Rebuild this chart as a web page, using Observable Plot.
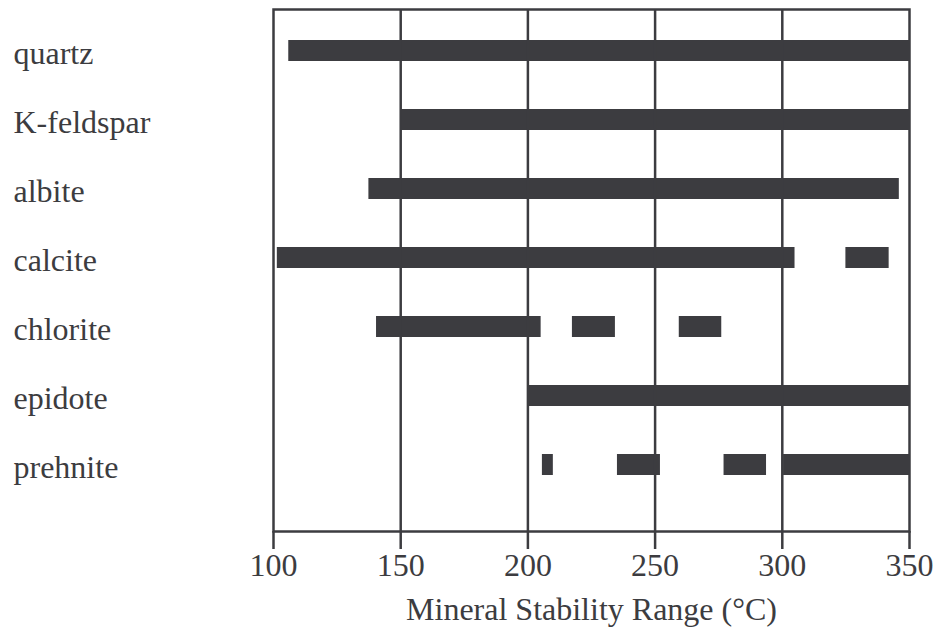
<!DOCTYPE html>
<html>
<head>
<meta charset="utf-8">
<script src="https://cdn.jsdelivr.net/npm/d3@7"></script>
<script src="https://cdn.jsdelivr.net/npm/@observablehq/plot@0.6"></script>
<style>
  html, body { margin: 0; padding: 0; background: #fff; }
  svg { font-family: "Liberation Serif", "DejaVu Serif", serif; }
</style>
</head>
<body>
<div id="chart"></div>
<script>
const minerals = ["quartz", "K-feldspar", "albite", "calcite", "chlorite", "epidote", "prehnite"];
const rangeMineral = ["quartz", "K-feldspar", "albite", "calcite", "calcite", "chlorite", "chlorite", "chlorite", "epidote", "prehnite", "prehnite", "prehnite", "prehnite"];
const rangeStart = [106, 150, 137.5, 101.5, 325, 140.5, 217.5, 259.5, 200, 205.7, 235.2, 277.1, 300.5];
const rangeEnd = [350, 350, 346, 305, 342, 205.2, 234.4, 276.2, 350, 210, 252.1, 293.8, 350];
const xTicks = [100, 150, 200, 250, 300, 350];
const gridTicks = [150, 200, 250, 300];
const xLabel = "Mineral Stability Range (°C)";

const data = rangeMineral.map((m, i) => ({mineral: m, start: rangeStart[i], end: rangeEnd[i]}));

const ink = "#3c3c40";

const chart = Plot.plot({
  width: 935,
  height: 634,
  marginLeft: 273,
  marginRight: 26,
  marginTop: 9,
  marginBottom: 103,
  style: {fontFamily: "'Liberation Serif', serif", fontSize: "32px", color: ink, background: "#fff"},
  x: {domain: [100, 350]},
  y: {domain: minerals, paddingInner: 0.698, paddingOuter: 0.599, align: 0.36},
  marks: [
    Plot.barX(data, {x1: "start", x2: "end", y: "mineral", fill: ink}),
    Plot.gridX(gridTicks, {stroke: ink, strokeOpacity: 1, strokeWidth: 2.5}),
    Plot.frame({stroke: ink, strokeWidth: 2.5}),
    Plot.axisX({ticks: xTicks, tickSize: 18, tickPadding: 4, strokeWidth: 2.5, fontSize: 32,
      label: xLabel, labelAnchor: "center", labelOffset: 88, labelArrow: "none"}),
    Plot.axisY({tickSize: 0, textAnchor: "start", dx: -251, dy: 3, fontSize: 32, label: null})
  ]
});
document.getElementById("chart").appendChild(chart);
</script>
</body>
</html>
